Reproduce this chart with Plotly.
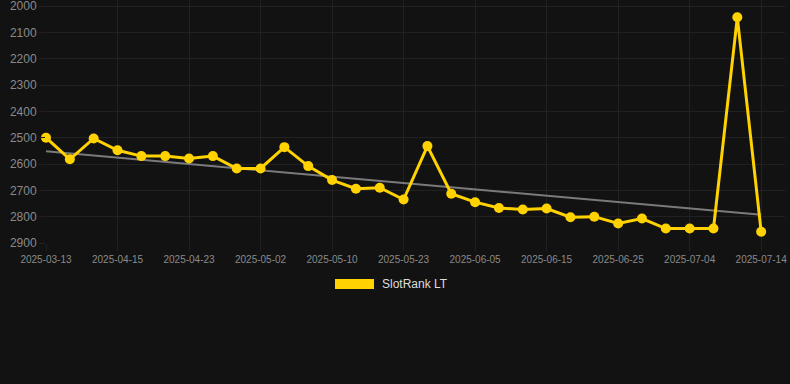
import plotly.graph_objects as go
import numpy as np

dates = ["2025-03-13", "2025-03-25", "2025-04-05", "2025-04-15", "2025-04-18", "2025-04-20",
         "2025-04-23", "2025-04-26", "2025-04-29", "2025-05-02", "2025-05-05", "2025-05-07",
         "2025-05-10", "2025-05-14", "2025-05-18", "2025-05-23", "2025-05-27", "2025-06-01",
         "2025-06-05", "2025-06-08", "2025-06-12", "2025-06-15", "2025-06-18", "2025-06-22",
         "2025-06-25", "2025-06-28", "2025-07-01", "2025-07-04", "2025-07-07", "2025-07-11",
         "2025-07-14"]
rank = [2500, 2582, 2503, 2548, 2570, 2570, 2579, 2570, 2617, 2617, 2536, 2608,
        2661, 2694, 2690, 2735, 2532, 2713, 2745, 2767, 2773, 2769, 2802, 2800,
        2826, 2807, 2845, 2845, 2845, 2043, 2857]
trend_ends = [2552, 2793]
y_ticks = [2000, 2100, 2200, 2300, 2400, 2500, 2600, 2700, 2800, 2900]
series_name = "SlotRank LT"

idx = np.arange(len(rank))
trend = np.linspace(trend_ends[0], trend_ends[1], len(rank))

gold = "#FFD200"
grid = "#212121"

# plot area: y from 0 px (top) to 243 px; 2000 sits at 6 px, 2900 at 243 px
px_per_unit = (243 - 6) / 900.0
y_top = 2000 - 6 / px_per_unit

fig = go.Figure()
fig.add_trace(go.Scatter(
    x=list(idx), y=list(trend), mode="lines",
    line=dict(color="#7a7a7a", width=2), showlegend=False, hoverinfo="skip"))
fig.add_trace(go.Scatter(
    x=list(idx), y=rank, mode="lines+markers", name=series_name,
    line=dict(color=gold, width=3),
    marker=dict(color=gold, size=10), showlegend=False, cliponaxis=False))

tickvals = list(idx[::3])
ticktext = [dates[i] for i in tickvals]

fig.update_layout(
    width=790, height=384,
    paper_bgcolor="#121212", plot_bgcolor="#121212",
    margin=dict(l=46, r=5, t=0, b=141),
    font=dict(family="Arial, Liberation Sans, sans-serif"),
    xaxis=dict(
        range=[0, 31.0], tickmode="array", tickvals=tickvals, ticktext=ticktext,
        showgrid=True, gridcolor=grid, gridwidth=1, zeroline=False,
        ticks="outside", ticklen=7, tickcolor=grid,
        tickfont=dict(size=10, color="#8a8a8a"), showline=False,
    ),
    yaxis=dict(
        range=[2900, y_top], tickmode="array", tickvals=y_ticks,
        showgrid=True, gridcolor=grid, gridwidth=1, zeroline=False,
        ticks="outside", ticklen=6, tickcolor=grid, ticklabeloverflow="allow",
        tickfont=dict(size=12, color="#8a8a8a"), showline=False,
    ),
    shapes=[dict(type="rect", xref="paper", yref="paper",
                 x0=(335 - 46) / 739, x1=(374 - 46) / 739,
                 y0=-(289 - 243) / 243, y1=-(279 - 243) / 243,
                 fillcolor=gold, line=dict(width=0))],
    annotations=[dict(text=series_name, xref="paper", yref="paper",
                      x=(380 - 46) / 739, y=-(284 - 243) / 243,
                      xanchor="left", yanchor="middle", showarrow=False,
                      font=dict(size=12, color="#dddddd"))],
)

fig.write_html("out.html")
